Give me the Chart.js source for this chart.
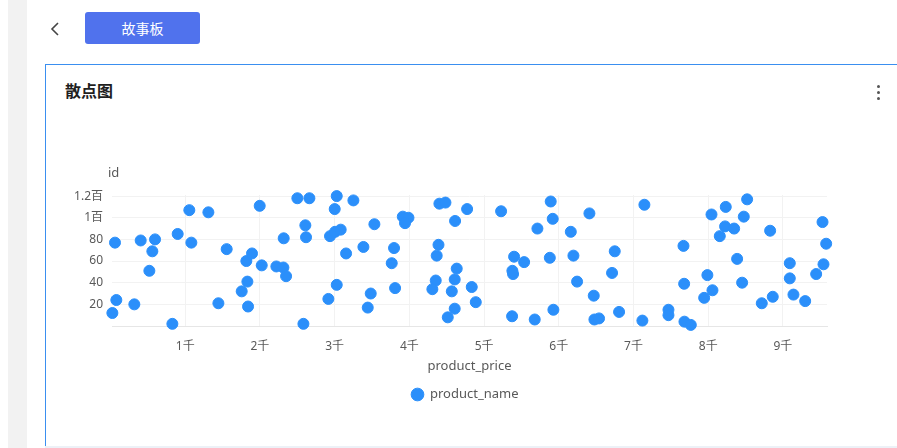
<!DOCTYPE html>
<html>
<head>
<meta charset="utf-8">
<script src="https://cdn.jsdelivr.net/npm/chart.js@4/dist/chart.umd.min.js"></script>
<style>
  body { margin: 0; width: 897px; height: 448px; overflow: hidden; background: #fff; position: relative; font-family: "Noto Sans", "Noto Sans CJK SC", sans-serif; }
  .strip { position: absolute; left: 8px; top: 0; width: 19px; height: 448px; background: #f2f2f2; }
  .back { position: absolute; left: 50px; top: 21px; }
  .btn { position: absolute; left: 85px; top: 12px; width: 115px; height: 32px; background: #5072ed; border-radius: 3px; color: #fff; font-size: 14px; line-height: 32px; text-align: center; font-family: "Noto Sans CJK SC", sans-serif; }
  .card { position: absolute; left: 45px; top: 64px; width: 880px; height: 420px; border: 1.5px solid #3a8ff0; box-sizing: border-box; }
  .title { position: absolute; left: 65px; top: 79px; font-size: 16px; line-height: 22px; font-weight: bold; color: #1f1f1f; font-family: "Noto Sans CJK SC", sans-serif; }
  .more { position: absolute; left: 877px; top: 85px; width: 3px; }
  .more i { display: block; width: 3px; height: 3px; border-radius: 50%; background: #555; margin-bottom: 3px; }
  .foot { position: absolute; left: 45px; top: 446px; width: 852px; height: 2px; background: #edf1f7; }
  #box { position: absolute; left: 60px; top: 150px; width: 810px; height: 261px; }
</style>
</head>
<body>
<div class="strip"></div>
<svg class="back" width="12" height="16"><polyline points="8,2 2,8 8,14" fill="none" stroke="#444" stroke-width="1.6"/></svg>
<div class="btn">故事板</div>
<div class="card"></div>
<div class="title">散点图</div>
<div class="more"><i></i><i></i><i></i></div>
<div class="foot"></div>
<div id="box"><canvas id="myChart" width="810" height="261"></canvas></div>
<script>
// product_price / id pairs
const prices = [60, 78, 25, 319, 404, 596, 560, 520, 828, 899, 1055, 1082, 1310, 1444, 1555, 1756, 1832, 1841, 1818, 1894,
  2024, 1997, 2220, 2314, 2350, 2318,
  2501, 2662, 3028, 3001, 3251, 2608, 2617, 2938, 3006, 3081, 3153, 3385, 3532, 3028, 2916, 3483, 3443, 2582, 3795, 3764,
  3809, 3912, 3988, 3942, 4390, 4366, 4402, 4483, 4773, 4612, 4634, 4607, 4353, 4308, 4568, 4835, 4889, 4607, 4514,
  5228, 5892, 5919, 5714, 6161, 6410, 5402, 5536, 5880, 6196, 5379, 5388, 6749, 6713, 6245, 6468, 5375, 5678, 5928, 6477,
  6539, 6807, 7146, 7119,
  7468, 7468, 7682, 7767, 7669, 7678, 7989, 8057, 7946, 8044, 8235, 8521, 8476, 8226, 8347, 8155, 8387, 8454, 8829, 8717,
  8864, 9092, 9092, 9141, 9298, 9445, 9543, 9530, 9579];
const ids = [77, 24, 12, 20, 79, 80, 69, 51, 2, 85, 107, 77, 105, 21, 71, 32, 41, 18, 60, 67,
  56, 111, 55, 54, 46, 81,
  118, 118, 120, 108, 116, 93, 82, 83, 87, 89, 67, 73, 94, 38, 25, 30, 17, 2, 72, 58,
  35, 101, 100, 95, 75, 65, 113, 114, 108, 97, 53, 43, 42, 34, 32, 36, 22, 16, 8,
  106, 115, 99, 90, 87, 104, 64, 59, 63, 65, 51, 48, 69, 49, 41, 28, 9, 6, 15, 6,
  7, 13, 112, 5,
  15, 10, 4, 1, 74, 39, 47, 33, 26, 103, 110, 117, 101, 92, 90, 83, 62, 40, 88, 21,
  27, 58, 44, 29, 23, 48, 57, 96, 76];
const xTicks = [1000, 2000, 3000, 4000, 5000, 6000, 7000, 8000, 9000];
const yTicks = [20, 40, 60, 80, 100, 120];

const ctx = document.getElementById("myChart");
const grey = "#595959";
const fontFam = '"Noto Sans", "Noto Sans CJK SC", sans-serif';

// 1000 -> 1千, 120 -> 1.2百
function fmt(v) {
  if (v >= 1000) return v / 1000 + "千";
  if (v >= 100) return v / 100 + "百";
  return String(v);
}

// "id" sits above the y axis, not rotated
const yTitle = {
  id: "yTitle",
  afterDraw(chart) {
    const c = chart.ctx;
    c.save();
    c.font = "13px " + fontFam;
    c.fillStyle = grey;
    c.textBaseline = "middle";
    c.fillText("id", chart.chartArea.left - 4, chart.chartArea.top - 22);
    c.restore();
  },
};

new Chart(ctx, {
  type: "scatter",
  data: {
    datasets: [
      {
        label: "product_name",
        data: prices.map(function (p, i) {
          return { x: p, y: ids[i] };
        }),
        backgroundColor: "#2b8ffa",
        borderColor: "#2b8ffa",
        pointRadius: 5.5,
        pointHoverRadius: 6,
        clip: false,
      },
    ],
  },
  options: {
    responsive: false,
    animation: false,
    layout: { padding: { top: 45, right: 0, bottom: 0, left: 0 } },
    plugins: {
      tooltip: { enabled: false },
      legend: {
        position: "bottom",
        labels: {
          usePointStyle: true,
          pointStyle: "circle",
          boxWidth: 12,
          boxHeight: 9,
          padding: 10,
          color: grey,
          font: { size: 13, family: fontFam },
        },
      },
    },
    scales: {
      x: {
        type: "linear",
        min: 20,
        max: 9590,
        afterBuildTicks: function (s) {
          s.ticks = xTicks.map(function (v) { return { value: v }; });
        },
        afterFit: function (s) { s.height = 52; },
        grid: { color: "#f2f2f2", drawTicks: false },
        border: { color: "#e6e6e6" },
        ticks: { padding: 13, color: grey, font: { size: 12, family: fontFam }, maxRotation: 0, callback: fmt },
        title: { display: true, text: "product_price", color: grey, font: { size: 13, family: fontFam }, padding: { top: 0, bottom: 4 } },
      },
      y: {
        min: 0,
        max: 121,
        afterBuildTicks: function (s) {
          s.ticks = yTicks.map(function (v) { return { value: v }; });
        },
        afterFit: function (s) { s.width = 52; },
        grid: { color: "#f2f2f2", drawTicks: false },
        border: { display: false },
        ticks: { padding: 9, color: grey, font: { size: 12, family: fontFam }, callback: fmt },
      },
      // empty right-hand spacer so the legend sits centred like the original
      spacer: {
        position: "right",
        grid: { display: false },
        border: { display: false },
        ticks: { display: false },
        afterFit: function (s) { s.width = 43; },
      },
    },
  },
  plugins: [yTitle],
});
</script>
</body>
</html>
